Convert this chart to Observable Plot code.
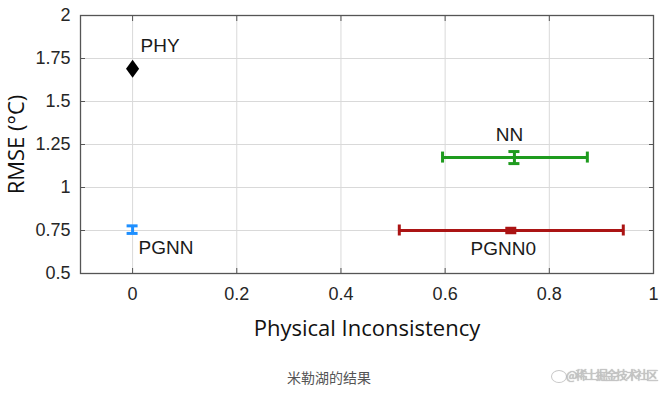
<!DOCTYPE html>
<html><head><meta charset="utf-8">
<script src="https://cdn.jsdelivr.net/npm/d3@7"></script>
<script src="https://cdn.jsdelivr.net/npm/@observablehq/plot@0.6"></script>
<style>
body{margin:0;background:#fff;}
#wrap{position:relative;width:670px;height:395px;overflow:hidden;}
#cap{position:absolute;left:0;width:658px;top:367px;text-align:center;font:14px "Noto Sans CJK SC",sans-serif;color:#555;}
#wm{position:absolute;left:566px;top:366px;font:12px "Noto Sans CJK SC",sans-serif;color:#c8c8c8;letter-spacing:-1.9px;text-shadow:0 0 1px #888;white-space:nowrap;}
#wmi{position:absolute;left:551px;top:370px;width:14px;height:11px;border:1.5px solid #c8c8c8;border-radius:50%;}
</style>
</head><body><div id="wrap"></div>
<script>
// ---- data ----
const models = ["PHY", "PGNN", "NN", "PGNN0"];
const inconsistency = [0, 0, 0.733, 0.727];
const inconsistencyLo = [null, null, 0.595, 0.512];
const inconsistencyHi = [null, null, 0.873, 0.942];
const rmse = [1.69, 0.755, 1.174, 0.75];
const rmseErr = [null, 0.022, 0.035, 0.013];
const modelColors = ["#000000", "#1e8fff", "#1e9b1e", "#ab1414"];
const xTicks = [0, 0.2, 0.4, 0.6, 0.8, 1];
const xTickLabels = ["0", "0.2", "0.4", "0.6", "0.8", "1"];
const yTicks = [0.5, 0.75, 1, 1.25, 1.5, 1.75, 2];
const yTickLabels = ["0.5", "0.75", "1", "1.25", "1.5", "1.75", "2"];
const xTitle = "Physical Inconsistency";
const yTitle = "RMSE (°C)";
const caption = "米勒湖的结果";
const watermark = "@稀土掘金技术社区";

// ---- layout ----
const W = 670, H = 355, mT = 15, mR = 17, mB = 82, mL = 80;
const xDom = [-0.1, 1], yDom = [0.5, 2];
const pxX = (W - mL - mR) / (xDom[1] - xDom[0]);
const pxY = (H - mT - mB) / (yDom[1] - yDom[0]);
const capPx = 5.5;

const rows = models.map((m, i) => ({
  model: m, x: inconsistency[i], xlo: inconsistencyLo[i], xhi: inconsistencyHi[i],
  y: rmse[i], yerr: rmseErr[i], color: modelColors[i]
}));
const hbars = rows.filter(d => d.xlo != null);
const vbars = rows.filter(d => d.yerr != null);
const phy = rows.filter(d => d.model === "PHY");

const tallDiamond = {
  draw(ctx, size) {
    const r = Math.sqrt(size / Math.PI);
    const w = r * 0.82, h = r * 1.12;
    ctx.moveTo(0, -h); ctx.lineTo(w, 0); ctx.lineTo(0, h); ctx.lineTo(-w, 0); ctx.closePath();
  }
};

const tickFont = "Liberation Sans, Arial, sans-serif";
const titleFont = "Open Sans, sans-serif";
const fmtX = d => xTickLabels[xTicks.indexOf(d)];
const fmtY = d => yTickLabels[yTicks.indexOf(d)];
const sw = 3;

const chart = Plot.plot({
  width: W, height: H,
  marginTop: mT, marginRight: mR, marginBottom: mB, marginLeft: mL,
  style: {fontFamily: tickFont, background: "#fff"},
  x: {domain: xDom},
  y: {domain: yDom},
  marks: [
    Plot.gridX(xTicks, {stroke: "#d9d9d9", strokeOpacity: 1}),
    Plot.gridY(yTicks, {stroke: "#d9d9d9", strokeOpacity: 1}),
    Plot.axisX(xTicks, {anchor: "bottom", tickSize: 0, tickPadding: 14, tickFormat: fmtX, fontSize: 18, fill: "#262626", label: null}),
    Plot.axisY(yTicks, {anchor: "left", tickSize: 0, tickPadding: 10, tickFormat: fmtY, fontSize: 18, fill: "#262626", label: null}),
    Plot.axisX(xTicks, {anchor: "bottom", tickSize: -5, tickFormat: () => "", stroke: "#555", label: null}),
    Plot.axisX(xTicks, {anchor: "top", tickSize: -5, tickFormat: () => "", stroke: "#555", label: null}),
    Plot.axisY(yTicks, {anchor: "left", tickSize: -5, tickFormat: () => "", stroke: "#555", label: null}),
    Plot.axisY(yTicks, {anchor: "right", tickSize: -5, tickFormat: () => "", stroke: "#555", label: null}),
    Plot.frame({stroke: "#555", strokeWidth: 1.3}),
    // horizontal error bars
    Plot.link(hbars, {x1: "xlo", x2: "xhi", y1: "y", y2: "y", stroke: "color", strokeWidth: sw}),
    Plot.ruleX(hbars, {x: "xlo", y1: d => d.y - capPx / pxY, y2: d => d.y + capPx / pxY, stroke: "color", strokeWidth: sw}),
    Plot.ruleX(hbars, {x: "xhi", y1: d => d.y - capPx / pxY, y2: d => d.y + capPx / pxY, stroke: "color", strokeWidth: sw}),
    // vertical error bars
    Plot.ruleX(vbars, {x: "x", y1: d => d.y - d.yerr, y2: d => d.y + d.yerr, stroke: "color", strokeWidth: sw}),
    Plot.ruleY(vbars, {y: d => d.y - d.yerr, x1: d => d.x - capPx / pxX, x2: d => d.x + capPx / pxX, stroke: "color", strokeWidth: sw}),
    Plot.ruleY(vbars, {y: d => d.y + d.yerr, x1: d => d.x - capPx / pxX, x2: d => d.x + capPx / pxX, stroke: "color", strokeWidth: sw}),
    // PHY marker
    Plot.dot(phy, {x: "x", y: "y", symbol: tallDiamond, r: 8, fill: "#000", stroke: "none"}),
    // labels
    Plot.text(rows.filter(d => d.model === "PHY"), {x: "x", y: "y", text: "model", dx: 8, dy: -23, textAnchor: "start", fontSize: 19, fill: "#1a1a1a"}),
    Plot.text(rows.filter(d => d.model === "NN"), {x: "x", y: "y", text: "model", dx: -5, dy: -23, fontSize: 19, fill: "#1a1a1a"}),
    Plot.text(rows.filter(d => d.model === "PGNN"), {x: "x", y: "y", text: "model", dx: 6, dy: 18, textAnchor: "start", fontSize: 19, fill: "#1a1a1a"}),
    Plot.text(rows.filter(d => d.model === "PGNN0"), {x: "x", y: "y", text: "model", dx: -8, dy: 18, fontSize: 19, fill: "#1a1a1a"}),
    // axis titles
    Plot.text([xTitle], {frameAnchor: "bottom", dy: 55, text: d => d, textAnchor: "middle", lineAnchor: "middle", fontSize: 22, fontFamily: titleFont, fill: "#111"}),
    Plot.text([yTitle], {frameAnchor: "left", dx: -64, rotate: -90, text: d => d, textAnchor: "middle", lineAnchor: "middle", fontSize: 22, fontFamily: titleFont, fill: "#111"})
  ]
});
const wrap = document.getElementById("wrap");
wrap.appendChild(chart);
const c = document.createElement("div"); c.id = "cap"; c.textContent = caption; wrap.appendChild(c);
const wi = document.createElement("div"); wi.id = "wmi"; wrap.appendChild(wi);
const wm = document.createElement("div"); wm.id = "wm"; wm.textContent = watermark; wrap.appendChild(wm);
</script>
</body></html>
